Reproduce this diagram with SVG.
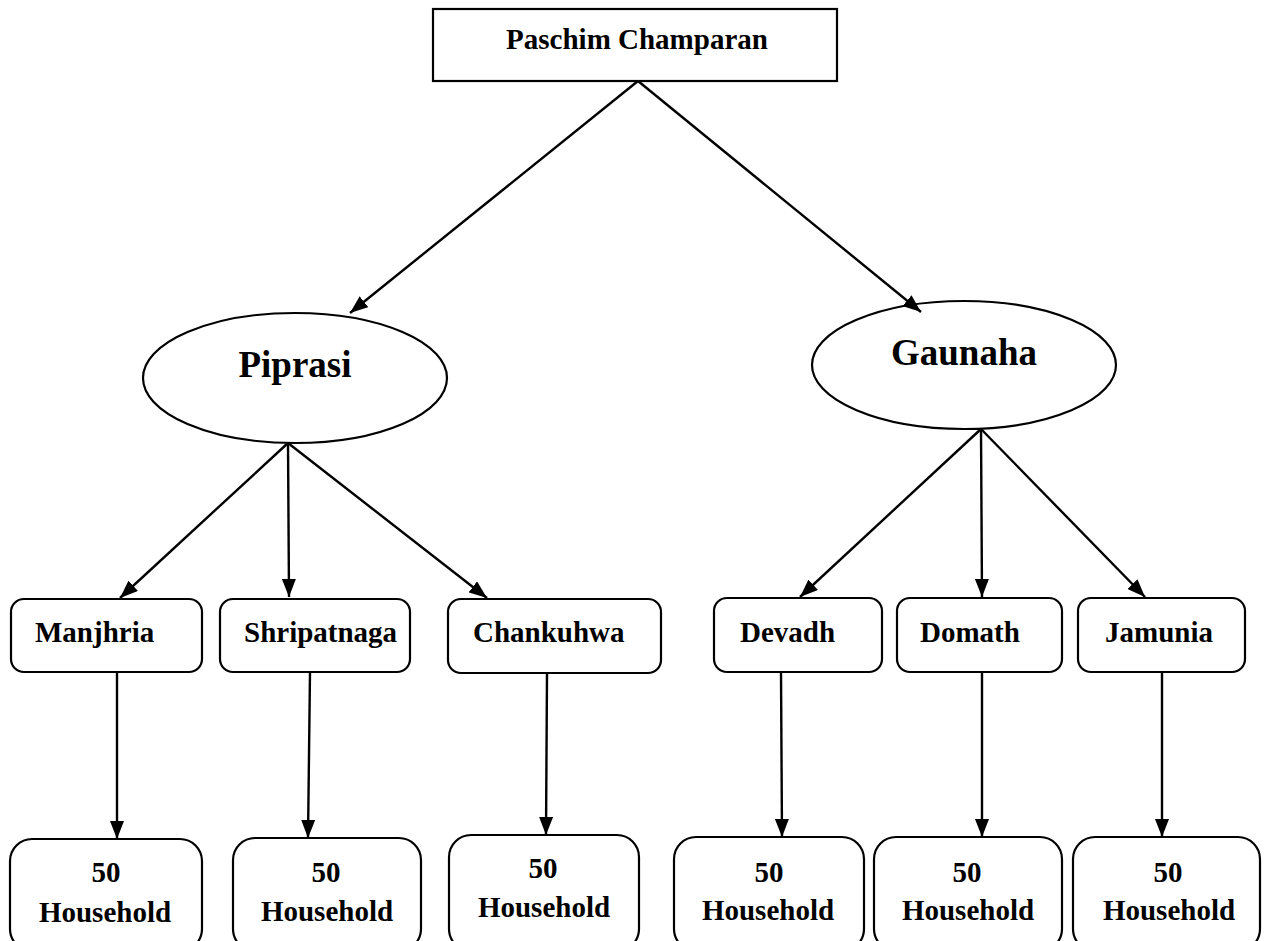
<svg xmlns="http://www.w3.org/2000/svg" width="1268" height="941" viewBox="0 0 1268 941">
<style>
.box{fill:#fff;stroke:#000;stroke-width:2.2}
.t{font-family:"Liberation Serif","Times New Roman",serif;font-weight:bold;fill:#000}
.m{font-size:29px}
.b{font-size:29px;text-anchor:middle}
.big{font-size:37px;text-anchor:middle}
.c{stroke:#000;stroke-width:2.4;fill:none;marker-end:url(#ah)}
</style>
<defs>
<marker id="ah" markerUnits="userSpaceOnUse" markerWidth="18" markerHeight="14" refX="18" refY="7" orient="auto">
<path d="M0,0 L18,7 L0,14 Z" fill="#000"/>
</marker>
</defs>
<rect width="1268" height="941" fill="#fff"/>
<g id="paschim">
<rect class="box" x="433" y="9" width="404" height="72"/>
<text class="t b" x="637" y="49" font-size="30">Paschim Champaran</text>
</g>
<g id="piprasi">
<ellipse class="box" cx="295" cy="378" rx="152" ry="65"/>
<text class="t big" x="295" y="377">Piprasi</text>
</g>
<g id="gaunaha">
<ellipse class="box" cx="964" cy="365" rx="152" ry="64"/>
<text class="t big" x="964" y="365">Gaunaha</text>
</g>
<g id="manjhria">
<rect class="box" x="11" y="599" width="191" height="73" rx="13"/>
<text class="t m" x="35" y="642">Manjhria</text>
</g>
<g id="shripatnaga">
<rect class="box" x="220" y="599" width="190" height="73" rx="13"/>
<text class="t m" x="244" y="642">Shripatnaga</text>
</g>
<g id="chankuhwa">
<rect class="box" x="448" y="599" width="213" height="74" rx="13"/>
<text class="t m" x="473" y="642">Chankuhwa</text>
</g>
<g id="devadh">
<rect class="box" x="714" y="598" width="168" height="74" rx="13"/>
<text class="t m" x="740" y="642">Devadh</text>
</g>
<g id="domath">
<rect class="box" x="897" y="598" width="165" height="74" rx="13"/>
<text class="t m" x="920" y="642">Domath</text>
</g>
<g id="jamunia">
<rect class="box" x="1078" y="598" width="167" height="74" rx="13"/>
<text class="t m" x="1105" y="642">Jamunia</text>
</g>
<g id="hh1">
<rect class="box" x="10" y="839" width="192" height="112" rx="22"/>
<text class="t b" x="106" y="882">50</text>
<text class="t b" x="105" y="922">Household</text>
</g>
<g id="hh2">
<rect class="box" x="233" y="838" width="188" height="113" rx="22"/>
<text class="t b" x="326" y="882">50</text>
<text class="t b" x="327" y="921">Household</text>
</g>
<g id="hh3">
<rect class="box" x="449" y="835" width="190" height="116" rx="22"/>
<text class="t b" x="543" y="878">50</text>
<text class="t b" x="544" y="917">Household</text>
</g>
<g id="hh4">
<rect class="box" x="674" y="837" width="190" height="114" rx="22"/>
<text class="t b" x="769" y="882">50</text>
<text class="t b" x="768" y="920">Household</text>
</g>
<g id="hh5">
<rect class="box" x="874" y="837" width="188" height="114" rx="22"/>
<text class="t b" x="967" y="882">50</text>
<text class="t b" x="968" y="920">Household</text>
</g>
<g id="hh6">
<rect class="box" x="1073" y="837" width="187" height="114" rx="22"/>
<text class="t b" x="1168" y="882">50</text>
<text class="t b" x="1169" y="920">Household</text>
</g>
<g id="connectors">
<line class="c" x1="638" y1="81" x2="350" y2="313"/>
<line class="c" x1="638" y1="81" x2="921" y2="312"/>
<line class="c" x1="288" y1="443" x2="120" y2="598"/>
<line class="c" x1="288" y1="443" x2="289" y2="597"/>
<line class="c" x1="288" y1="443" x2="487" y2="598"/>
<line class="c" x1="981" y1="429" x2="800" y2="597"/>
<line class="c" x1="981" y1="429" x2="982" y2="597"/>
<line class="c" x1="981" y1="429" x2="1145" y2="597"/>
<line class="c" x1="117" y1="672" x2="117" y2="839"/>
<line class="c" x1="310" y1="672" x2="308" y2="838"/>
<line class="c" x1="547" y1="673" x2="546" y2="835"/>
<line class="c" x1="781" y1="672" x2="782" y2="837"/>
<line class="c" x1="982" y1="672" x2="982" y2="837"/>
<line class="c" x1="1162" y1="672" x2="1162" y2="837"/>
</g>
</svg>
